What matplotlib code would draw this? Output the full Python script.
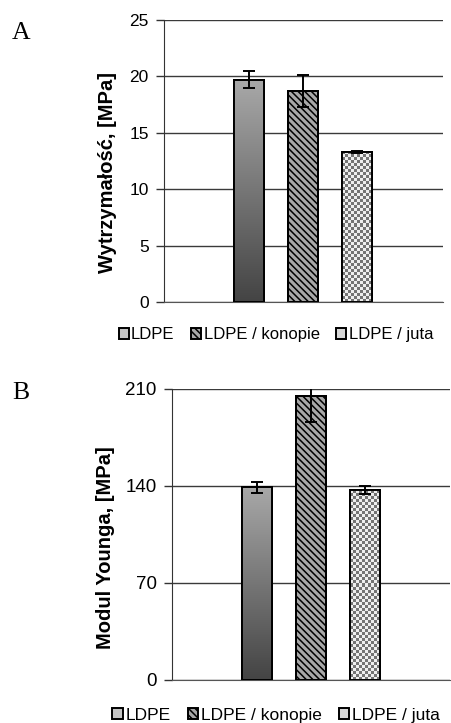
import numpy as np
import matplotlib
matplotlib.use('Agg')
import matplotlib.pyplot as plt
from matplotlib.colors import LinearSegmentedColormap, ListedColormap

plt.rcParams['font.family'] = ['Liberation Sans', 'DejaVu Sans']
plt.rcParams['hatch.color'] = '#484848'
plt.rcParams['hatch.linewidth'] = 1.1

series = ['LDPE', 'LDPE / konopie', 'LDPE / juta']

# A - wytrzymalosc
strength = [19.7, 18.7, 13.3]
strength_err = [0.75, 1.4, 0.1]
strength_ticks = [0, 5, 10, 15, 20, 25]

# B - modul Younga
modulus = [139, 205, 137]
modulus_err = [4, 19, 3]
modulus_ticks = [0, 70, 140, 210]

fig = plt.figure(figsize=(4.51, 7.23), dpi=100)
axA = fig.add_axes([0.3636, 0.5823, 0.6186, 0.3900])
axB = fig.add_axes([0.3814, 0.0595, 0.6160, 0.4025])

grad_cmap = LinearSegmentedColormap.from_list('g', ['#444444', '#a8a8a8'])
check_cmap = ListedColormap(['#eeeeee', '#747474'])


def panel(ax, vals, errs, ticks, ylabel, tick_fs, lab_xy):
    ax.set_xlim(-0.5, 0.5)
    ax.set_ylim(ticks[0], ticks[-1])
    w = 0.1075
    xs = np.array([-1, 0, 1]) * w * 1.8
    bars = ax.bar(xs, vals, width=w, color=['#c4c4c4', '#a8a8a8', '#d8d8d8'],
                  edgecolor='black', linewidth=1.4, zorder=2)
    bars[1].set_hatch('\\' * 5)
    ax.bar(xs, vals, width=w, fill=False, edgecolor='black', linewidth=1.4, zorder=3)
    ax.errorbar(xs, vals, yerr=errs, fmt='none', ecolor='black', elinewidth=1.4,
                capsize=4.5, capthick=1.4, zorder=4)

    # gradient on first bar
    b = bars[0]
    ext = [b.get_x(), b.get_x() + b.get_width(), 0, b.get_height()]
    grad = np.linspace(0, 1, 256).reshape(-1, 1)
    im = ax.imshow(grad, extent=ext, origin='lower', cmap=grad_cmap,
                   aspect='auto', zorder=2.5, interpolation='bilinear')
    im.set_clip_path(b)

    # checkerboard on third bar
    b = bars[2]
    ext = [b.get_x(), b.get_x() + b.get_width(), 0, b.get_height()]
    p0 = ax.transData.transform((ext[0], ext[2]))
    p1 = ax.transData.transform((ext[1], ext[3]))
    nx = int(round((p1[0] - p0[0]) / 3.0))
    ny = int(round((p1[1] - p0[1]) / 3.0))
    ii, jj = np.indices((ny, nx))
    im2 = ax.imshow((ii + jj) % 2, extent=ext, origin='lower', cmap=check_cmap,
                    aspect='auto', zorder=2.5, interpolation='nearest')
    im2.set_clip_path(b)

    ax.set_xticks([])
    ax.set_yticks(ticks)
    ax.set_yticklabels([str(t) for t in ticks], fontsize=tick_fs)
    ax.tick_params(axis='y', length=6, width=1, color='#333333', pad=5)
    ax.grid(axis='y', color='#3a3a3a', linewidth=1, zorder=1)
    ax.set_axisbelow(True)
    for s in ['top', 'right']:
        ax.spines[s].set_visible(False)
    ax.spines['left'].set_color('#333333')
    ax.spines['bottom'].set_color('#555555')
    ax.set_ylabel(ylabel, fontsize=14.5, fontweight='bold')
    ax.yaxis.set_label_coords(*lab_xy)
    return bars


barsA = panel(axA, strength, strength_err, strength_ticks,
              'Wytrzymałość, [MPa]', 12.5, (-0.17, 0.46))
barsB = panel(axB, modulus, modulus_err, modulus_ticks,
              'Modul Younga, [MPa]', 13.5, (-0.205, 0.455))

for bars, y, fs in [(barsA, 0.537, 12), (barsB, 0.011, 12.5)]:
    fig.legend(bars, series, loc='center', bbox_to_anchor=(0.612, y), ncol=3,
               frameon=False, fontsize=fs, handlelength=0.6, handleheight=0.6,
               handletextpad=0.15, columnspacing=1.0, borderpad=0)

fig.text(0.027, 0.955, 'A', fontsize=18.5, family='Liberation Serif', va='center')
fig.text(0.027, 0.457, 'B', fontsize=18.5, family='Liberation Serif', va='center')

fig.savefig('out.png', dpi=100)
